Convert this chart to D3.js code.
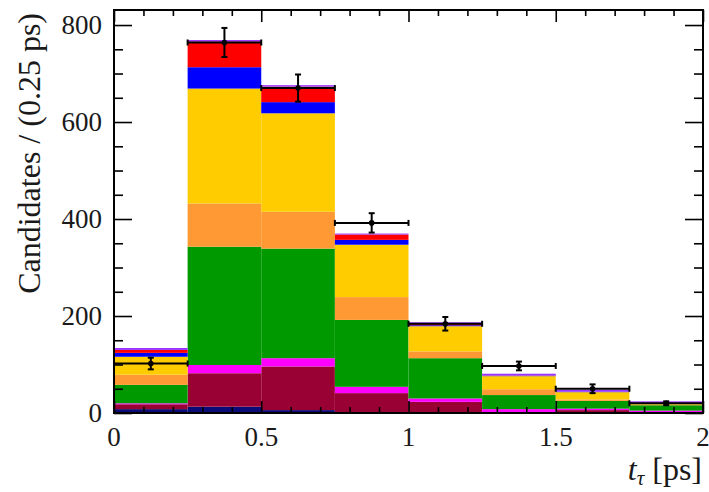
<!DOCTYPE html>
<html>
<head>
<meta charset="utf-8">
<script src="https://cdn.jsdelivr.net/npm/d3@7"></script>
<style>
  html, body { margin: 0; padding: 0; background: #fff; }
  svg { display: block; }
  text { font-family: "Liberation Serif", "DejaVu Serif", serif; fill: #1a1a1a; }
</style>
</head>
<body>
<svg id="chart" width="709" height="492"></svg>
<script>
// Decay-time distribution: stacked simulated components plus data with errors
const binLow = [0, 0.25, 0.5, 0.75, 1.0, 1.25, 1.5, 1.75];
const binWidth = 0.25;

// Component yields per bin (stacked bottom to top)
const navy    = [8, 13, 6, 1, 0, 0, 0, 0];
const maroon  = [10, 69, 90, 40, 23, 1, 6, 2];
const magenta = [2, 17, 17, 13, 7, 7, 3, 3];
const green   = [38, 244, 226, 138, 83, 29, 16, 11];
const orange  = [21, 89, 76, 47, 14, 12, 3, 1];
const yellow  = [37, 237, 203, 108, 52, 27, 15, 1.5];
const blue    = [8, 44, 23, 10, 2, 1, 1, 0.5];
const red     = [6, 53, 32, 11, 4, 0.5, 0, 0];
const violet  = [4, 3, 3, 2, 2, 3.5, 4, 5];

// Observed candidates and their uncertainties
const dataCounts = [102, 764, 670, 392, 184, 97, 50, 20];
const dataErrors = [12, 30, 28, 20, 14, 9, 9, 4];

const xTicksMajor = [0, 0.5, 1, 1.5, 2];
const xTickLabels = ["0", "0.5", "1", "1.5", "2"];
const yTicksMajor = [0, 200, 400, 600, 800];
const yTickLabels = ["0", "200", "400", "600", "800"];

const components = [
  { key: "navy", values: navy, color: "#0b0b78" },
  { key: "maroon", values: maroon, color: "#990033" },
  { key: "magenta", values: magenta, color: "#ff00ff" },
  { key: "green", values: green, color: "#009900" },
  { key: "orange", values: orange, color: "#ff9933" },
  { key: "yellow", values: yellow, color: "#ffcc00" },
  { key: "blue", values: blue, color: "#0000ff" },
  { key: "red", values: red, color: "#ff0000" },
  { key: "violet", values: violet, color: "#9933ff" }
];

const W = 709, H = 492;
const margin = { left: 114, right: 6, top: 10, bottom: 79 };
const svg = d3.select("#chart");

const x = d3.scaleLinear().domain([0, 2]).range([margin.left, W - margin.right]);
const y = d3.scaleLinear().domain([0, 831]).range([H - margin.bottom, margin.top]);

// Table for the stack layout
const rows = binLow.map((lo, i) => {
  const r = { lo };
  components.forEach(c => { r[c.key] = c.values[i]; });
  return r;
});
const stacked = d3.stack().keys(components.map(c => c.key))(rows);

const histG = svg.append("g");
stacked.forEach((layer, li) => {
  histG.selectAll(null)
    .data(layer)
    .enter()
    .append("rect")
    .attr("x", d => x(d.data.lo))
    .attr("width", d => x(d.data.lo + binWidth) - x(d.data.lo))
    .attr("y", d => y(d[1]))
    .attr("height", d => Math.max(0, y(d[0]) - y(d[1])))
    .attr("fill", components[li].color);
});

// Frame and inward ticks on all four sides
const fx0 = x.range()[0], fx1 = x.range()[1];
const fy0 = y.range()[0], fy1 = y.range()[1];
const axesG = svg.append("g");

const xMinor = d3.range(0, 2.0001, 0.1).map(v => +v.toFixed(2));
const yMinor = d3.range(0, 831, 50);
const isMajorX = d => xTicksMajor.some(m => Math.abs(m - d) < 1e-6);

const axBottom = axesG.append("g").attr("transform", `translate(0,${fy0})`);
axBottom.call(d3.axisTop(x).tickValues(xMinor).tickFormat("").tickSize(0));
axBottom.selectAll(".tick line").attr("y2", d => isMajorX(d) ? -12 : -6);

const axTop = axesG.append("g").attr("transform", `translate(0,${fy1})`);
axTop.call(d3.axisBottom(x).tickValues(xMinor).tickFormat("").tickSize(0));
axTop.selectAll(".tick line").attr("y2", d => isMajorX(d) ? 12 : 6);

const axLeft = axesG.append("g").attr("transform", `translate(${fx0},0)`);
axLeft.call(d3.axisRight(y).tickValues(yMinor).tickFormat("").tickSize(0));
axLeft.selectAll(".tick line").attr("x2", d => d % 200 === 0 ? 18 : 9);

const axRight = axesG.append("g").attr("transform", `translate(${fx1},0)`);
axRight.call(d3.axisLeft(y).tickValues(yMinor).tickFormat("").tickSize(0));
axRight.selectAll(".tick line").attr("x2", d => d % 200 === 0 ? -18 : -9);

axesG.selectAll(".domain").remove();
axesG.selectAll(".tick line").attr("stroke", "#000").attr("stroke-width", 1.6);

axesG.append("rect")
  .attr("x", fx0).attr("y", fy1)
  .attr("width", fx1 - fx0).attr("height", fy0 - fy1)
  .attr("fill", "none").attr("stroke", "#000").attr("stroke-width", 2);

// Tick labels
const labelsG = svg.append("g");
labelsG.selectAll(null).data(xTicksMajor).enter().append("text")
  .attr("x", d => x(d)).attr("y", 446)
  .attr("text-anchor", "middle").attr("font-size", 27)
  .text((d, i) => xTickLabels[i]);
labelsG.selectAll(null).data(yTicksMajor).enter().append("text")
  .attr("x", 102).attr("y", d => y(d) + 9)
  .attr("text-anchor", "end").attr("font-size", 27)
  .text((d, i) => yTickLabels[i]);

// Axis titles
svg.append("text")
  .attr("transform", `translate(40,13) rotate(-90)`)
  .attr("text-anchor", "end").attr("font-size", 32)
  .text("Candidates / (0.25 ps)");

const xt = svg.append("text")
  .attr("x", 702).attr("y", 480)
  .attr("text-anchor", "end").attr("font-size", 32);
xt.append("tspan").attr("font-style", "italic").text("t");
xt.append("tspan").attr("font-style", "italic").attr("font-size", 21).attr("dy", 5).text("τ");
xt.append("tspan").attr("dy", -5).text(" [ps]");

// Data points with vertical error bars and bin-width bars
const pts = svg.append("g").attr("stroke", "#000").attr("stroke-width", 2).attr("fill", "none");
binLow.forEach((lo, i) => {
  const xl = x(lo), xr = x(lo + binWidth), xc = x(lo + binWidth / 2);
  const yc = y(dataCounts[i]);
  const yt = y(dataCounts[i] + dataErrors[i]);
  const yb = y(dataCounts[i] - dataErrors[i]);
  pts.append("line").attr("x1", xl).attr("x2", xr).attr("y1", yc).attr("y2", yc);
  pts.append("line").attr("x1", xl).attr("x2", xl).attr("y1", yc - 3).attr("y2", yc + 3);
  pts.append("line").attr("x1", xr).attr("x2", xr).attr("y1", yc - 3).attr("y2", yc + 3);
  pts.append("line").attr("x1", xc).attr("x2", xc).attr("y1", yt).attr("y2", yb);
  pts.append("line").attr("x1", xc - 3).attr("x2", xc + 3).attr("y1", yt).attr("y2", yt);
  pts.append("line").attr("x1", xc - 3).attr("x2", xc + 3).attr("y1", yb).attr("y2", yb);
  pts.append("circle").attr("cx", xc).attr("cy", yc).attr("r", 1.8).attr("fill", "#000");
});
</script>
</body>
</html>
